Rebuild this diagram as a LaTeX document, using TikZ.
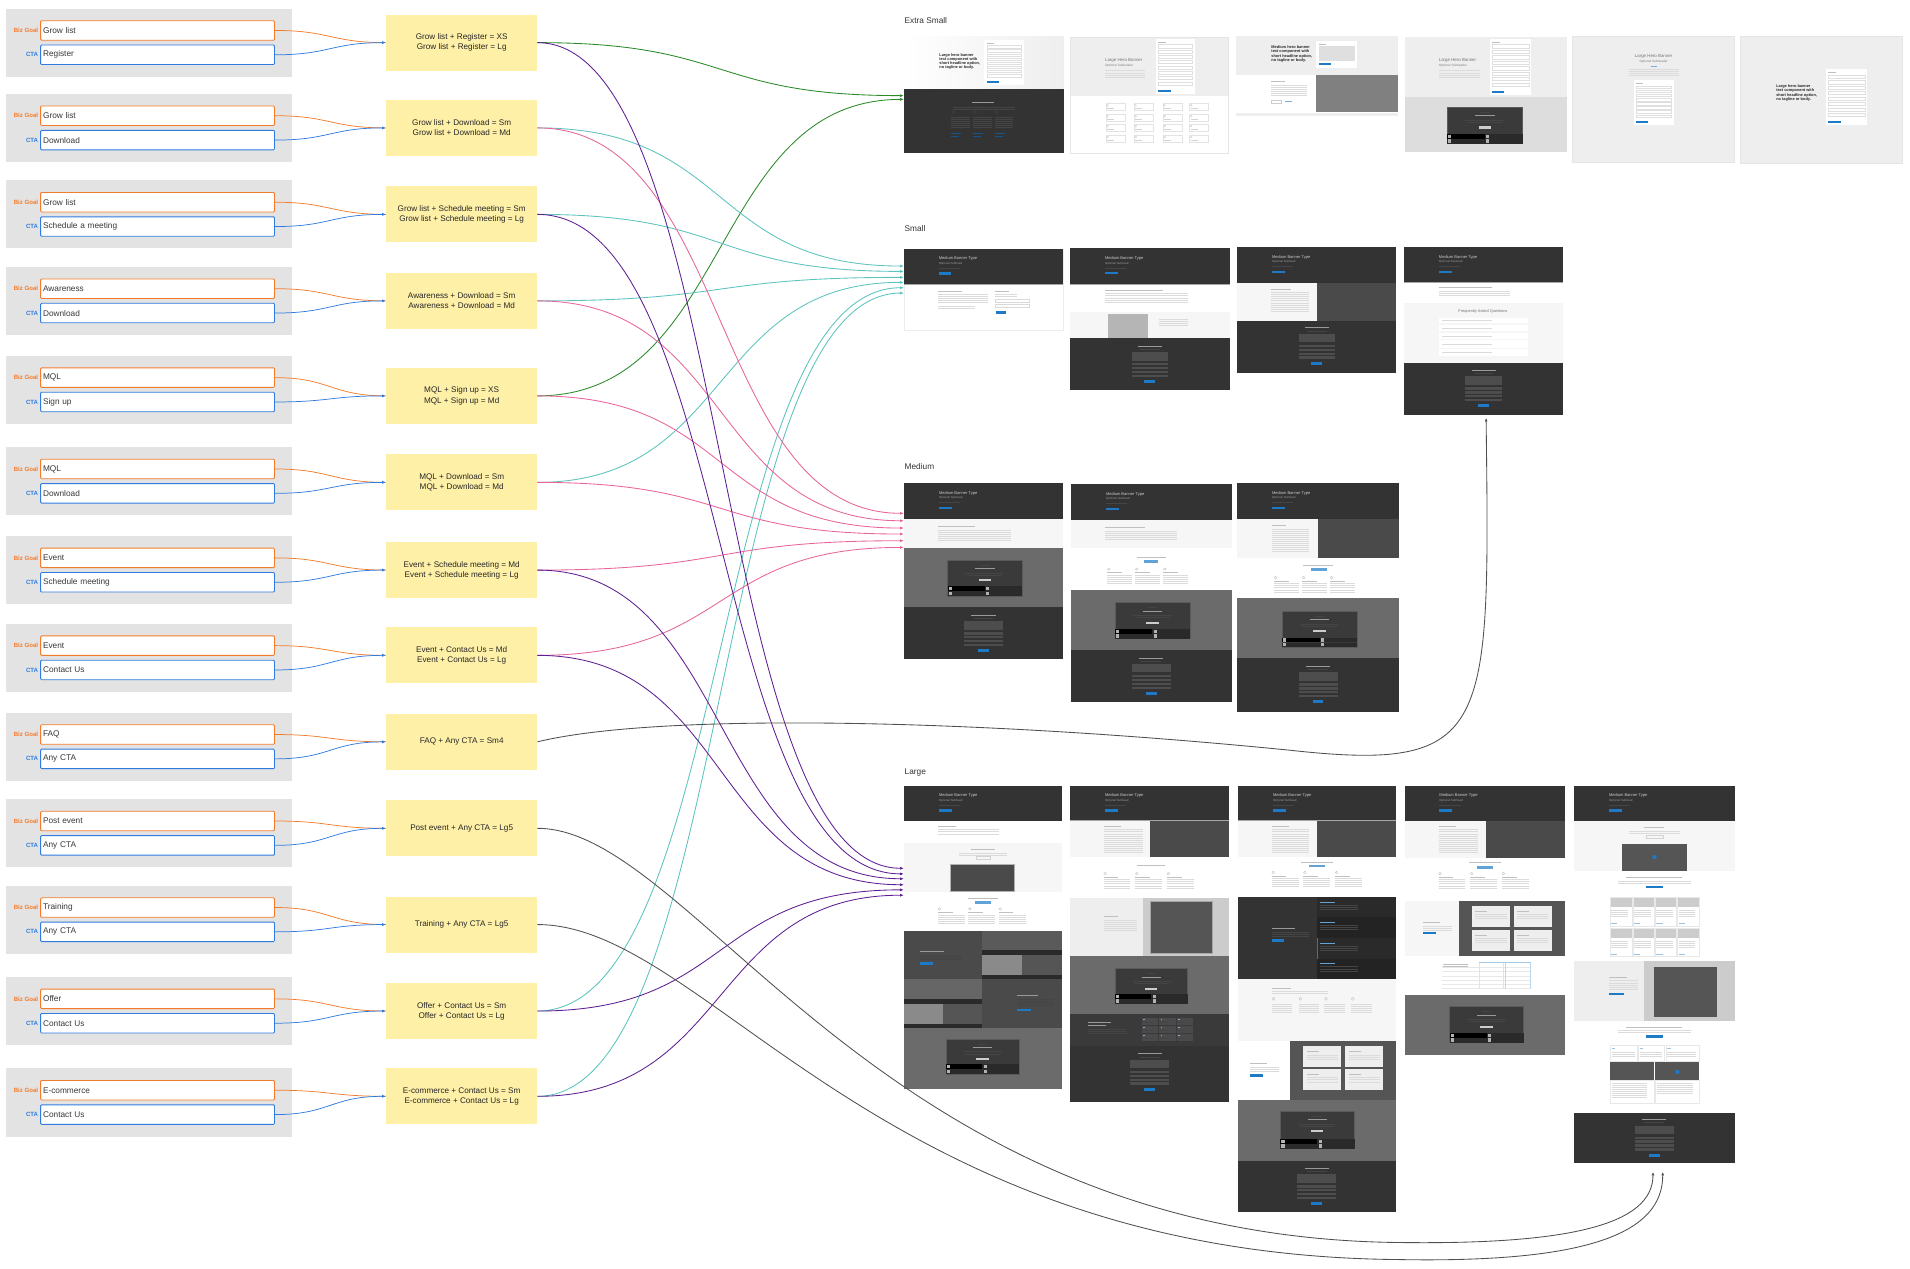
\documentclass[tikz,border=0pt]{standalone}
\usepackage{fontspec}
\setmainfont{Liberation Sans}
\usetikzlibrary{arrows.meta}
\definecolor{bizor}{HTML}{F47B2A}
\definecolor{ctabl}{HTML}{2F7BE0}
\definecolor{panel}{HTML}{E3E3E3}
\definecolor{ylw}{HTML}{FFF0A8}
\definecolor{cgreen}{HTML}{2A8A2A}
\definecolor{cteal}{HTML}{5CC3BD}
\definecolor{cpink}{HTML}{E8649A}
\definecolor{cpurple}{HTML}{5E1F93}
\definecolor{cgrey}{HTML}{505050}
\definecolor{dk}{HTML}{333333}
\definecolor{dk2}{HTML}{2A2A2A}
\definecolor{dk3}{HTML}{232323}
\definecolor{mid}{HTML}{4A4A4A}
\definecolor{gry}{HTML}{6B6B6B}
\definecolor{lt}{HTML}{EEEEEE}
\definecolor{lt2}{HTML}{F6F6F6}
\definecolor{ltc}{HTML}{CCCCCC}
\definecolor{btn}{HTML}{1E7AC6}
\definecolor{pbox}{HTML}{3A3A3A}
\definecolor{pline}{HTML}{5A5A5A}
\definecolor{dfield}{HTML}{4D4D4D}
\definecolor{m5a}{HTML}{5A5A5A}
\definecolor{m8a}{HTML}{8A8A8A}
\definecolor{m55}{HTML}{555555}
\definecolor{m66}{HTML}{666666}
\definecolor{xsg}{HTML}{808080}
\definecolor{ddd}{HTML}{DDDDDD}
\definecolor{bfive}{HTML}{B5B5B5}
\colorlet{tlg}{gray!28}
\colorlet{tlh}{gray!50}
\colorlet{tld}{white!27!black}
\colorlet{tlw}{white!60!black}
\tikzset{
  goalfield/.style={draw=bizor, line width=0.7pt, fill=white, anchor=west, minimum height=16pt,
    text width=188pt, inner xsep=2pt, inner ysep=0pt, align=left, rounded corners=0.8pt,
    font=\fontsize{6.8}{8}\selectfont, text=black!78},
  ctafield/.style={goalfield, draw=ctabl},
  goallabel/.style={anchor=east, inner sep=0pt, font=\fontsize{5}{6}\selectfont\bfseries, text=bizor},
  ctalabel/.style={anchor=east, inner sep=0pt, font=\fontsize{5}{6}\selectfont\bfseries, text=ctabl},
  combo/.style={fill=ylw, minimum width=124pt, minimum height=46pt, align=center, inner sep=0pt,
    font=\fontsize{6.7}{8.4}\selectfont, text=black!85},
  inlink/.style={line width=0.6pt},
  arr/.style={-{Latex[length=3pt,width=2.4pt]}},
  outlink/.style={line width=0.7pt, arr},
  sectitle/.style={anchor=west, inner sep=0pt, font=\fontsize{6.8}{8}\selectfont, text=black!80},
  tiny/.style={font=\fontsize{2.6}{3.1}\selectfont, inner sep=0pt, anchor=north west, align=left},
}
\newcounter{tnc}
\newcommand{\tx}[3][]{\stepcounter{tnc}\node[tiny,#1] (tx\arabic{tnc}) at (#2) {#3};}
\newcommand{\tlines}[5]{%
  \pgfmathsetmacro{\tlxa}{#1}\pgfmathsetmacro{\tlxb}{#2}\pgfmathsetmacro{\tly}{#3}%
  \foreach \k in {1,...,#4}{\draw[#5,line width=0.25pt] (\tlxa,{\tly+(\k-1)*1.7}) -- (\tlxb,{\tly+(\k-1)*1.7});}}
\newcommand{\tcols}[4]{%
  \foreach \j in {0,1,2}{%
    \pgfmathsetmacro{\tcx}{#1+\j*(#3+#4)}%
    \draw[tlh,line width=0.3pt] ({\tcx+1.2},{#2+1.2}) circle (1.1pt);
    \draw[tlh,line width=0.3pt] (\tcx,{#2+4}) -- ({\tcx+12},{#2+4});
    \tlines{\tcx}{\tcx+#3}{#2+6}{5}{tlg}
  }}
\newcommand{\mhead}[4]{%
  \fill[dk] (#1,#2) rectangle (#3,#4);
  \draw[gray!70,line width=0.5pt] (#1,#4) -- (#3,#4);
  \tx[font=\fontsize{3.3}{3.8}\selectfont, text=white!80!black]{{#1+28.5},{#2+6.5}}{Medium Banner Type}
  \tx[font=\fontsize{2.4}{2.8}\selectfont, text=white!60!black]{{#1+28.5},{#2+11}}{Optional Subhead}
  \draw[tld,line width=0.3pt] ({#1+28.5},{#2+16}) -- ({#1+46},{#2+16});
  \fill[btn] ({#1+28.5},{#2+19.5}) rectangle ({#1+39},{#2+21.3});
}
\newcommand{\dform}[3]{%
  \pgfmathsetmacro{\dfa}{#1-#3/2}\pgfmathsetmacro{\dfb}{#1+#3/2}%
  \draw[tlw,line width=0.4pt] ({#1-10},{#2}) -- ({#1+10},{#2});
  \draw[tld,line width=0.3pt] ({#1-8},{#2+2.5}) -- ({#1+8},{#2+2.5});
  \fill[dfield] (\dfa,{#2+5}) rectangle (\dfb,{#2+12});
  \foreach \k in {0,...,3}{\fill[dfield] (\dfa,{#2+14+\k*3.2}) rectangle (\dfb,{#2+15.9+\k*3.2});}
  \fill[btn] ({#1-4.5},{#2+28}) rectangle ({#1+4.5},{#2+30.5});
}
\newcommand{\tform}[4]{%
  \fill[white] (#1,#2) rectangle (#3,#4);
  \pgfmathsetmacro{\fst}{(#4-#2-10)/8}%
  \draw[tlh,line width=0.3pt] ({#1+2},{#2+2.5}) -- ({#1+8},{#2+2.5});
  \foreach \k in {0,...,7}{\draw[gray!25,line width=0.25pt] ({#1+2},{#2+4.5+\k*\fst}) rectangle ({#3-2},{#2+4.5+\k*\fst+\fst*0.6});}
  \fill[btn] ({#1+2},{#4-3.5}) rectangle ({#1+12},{#4-1.8});
}
\newcommand{\promo}[4]{%
  \pgfmathsetmacro{\pcx}{(#1+#3)/2}%
  \fill[pbox] (#1,#2) rectangle (#3,#4);
  \draw[pline,line width=0.5pt] (#1,#2) rectangle (#3,#4);
  \draw[tld,line width=0.3pt] ({\pcx-4},{#2+4}) -- ({\pcx+4},{#2+4});
  \draw[tlw,line width=0.45pt] ({\pcx-8},{#2+7}) -- ({\pcx+8},{#2+7});
  \draw[tld,line width=0.25pt] ({\pcx-16},{#2+10.5}) -- ({\pcx+16},{#2+10.5});
  \draw[tld,line width=0.25pt] ({\pcx-14},{#2+12.2}) -- ({\pcx+14},{#2+12.2});
  \fill[white!80!black] ({\pcx-5},{#2+15.5}) rectangle ({\pcx+5},{#2+17.5});
  \fill[black] (#1,{#4-8}) rectangle (\pcx,{#4-4.2});
  \fill[dk2] (\pcx,{#4-8}) rectangle (#3,{#4-4.2});
  \fill[dk2] (#1,{#4-4}) rectangle (#3,#4);
  \fill[gray!60] ({#1+1},{#4-7.5}) rectangle ({#1+3.5},{#4-4.7});
  \fill[gray!60] ({\pcx+1},{#4-7.5}) rectangle ({\pcx+3.5},{#4-4.7});
  \fill[gray!60] ({#1+1},{#4-3.6}) rectangle ({#1+3.5},{#4-0.8});
  \fill[gray!60] ({\pcx+1},{#4-3.6}) rectangle ({\pcx+3.5},{#4-0.8});
}
\newcommand{\olink}[3]{\draw[outlink,#1] (#2.east) .. controls +(160,0) and +(-160,0) .. (#3);}
\begin{document}
\begin{tikzpicture}[x=1pt,y=-1pt]
\useasboundingbox (0,0) rectangle (1568,1041);
\fill[white] (0,0) rectangle (1568,1041);

% ---------------- left column
\foreach \rt/\rg/\rc/\ry/\rl [count=\i] in {
  7/Grow list/Register/35/{Grow list + Register = XS\\Grow list + Register = Lg},
  77/Grow list/Download/105/{Grow list + Download = Sm\\Grow list + Download = Md},
  148/Grow list/Schedule a meeting/176/{Grow list + Schedule meeting = Sm\\Grow list + Schedule meeting = Lg},
  219/Awareness/Download/247/{Awareness + Download = Sm\\Awareness + Download = Md},
  292/MQL/Sign up/325/{MQL + Sign up = XS\\MQL + Sign up = Md},
  367/MQL/Download/396/{MQL + Download = Sm\\MQL + Download = Md},
  440/Event/Schedule meeting/468/{Event + Schedule meeting = Md\\Event + Schedule meeting = Lg},
  512/Event/Contact Us/538/{Event + Contact Us = Md\\Event + Contact Us = Lg},
  585/FAQ/Any CTA/609/{FAQ + Any CTA = Sm4},
  656/Post event/Any CTA/680/{Post event + Any CTA = Lg5},
  727/Training/Any CTA/759/{Training + Any CTA = Lg5},
  802/Offer/Contact Us/830/{Offer + Contact Us = Sm\\Offer + Contact Us = Lg},
  877/E-commerce/Contact Us/900/{E-commerce + Contact Us = Sm\\E-commerce + Contact Us = Lg}}{
  \fill[panel] (5,\rt) rectangle (240,{\rt+56});
  \node[goalfield] (g\i) at (33,{\rt+18}) {\rg};
  \node[ctafield] (c\i) at (33,{\rt+38}) {\rc};
  \node[goallabel] (bg\i) at (31.5,{\rt+18}) {Biz Goal};
  \node[ctalabel] (ct\i) at (31.5,{\rt+38}) {CTA};
  \node[combo] (y\i) at (379,\ry) {\rl};
  \draw[inlink,bizor] (g\i.east) .. controls +(45,0) and +(-45,0) .. (y\i.west);
  \draw[inlink,ctabl,arr] (c\i.east) .. controls +(45,0) and +(-45,0) .. (y\i.west);
}

% ---------------- section titles
\node[sectitle] (lxs) at (742.5,17) {Extra Small};
\node[sectitle] (lsm) at (742.5,188) {Small};
\node[sectitle] (lmd) at (742.5,383) {Medium};
\node[sectitle] (llg) at (742.5,634) {Large};

% ================= Extra small
% XS1
\shade[left color=white,right color=lt] (742,29.6) rectangle (873.6,73.3);
\fill[dk] (742,73.3) rectangle (873.6,125.4);
\tx[font=\fontsize{3.2}{3.4}\selectfont\bfseries, text=black!85]{771,43.5}{Large hero banner\\text component with\\short headline option,\\no tagline or body.}
\tform{808}{32.8}{840.7}{69.8}
\draw[tlw,line width=0.35pt] (798,84) -- (816,84);
\tlines{782}{833}{87.6}{2}{tld}
\foreach \xa in {781,799,817}{
  \draw[tld,line width=0.3pt] ({\xa+1.5},92) circle (1pt);
  \tlines{\xa}{\xa+15}{95.8}{6}{tld}
  \draw[btn!70!black,line width=0.3pt] (\xa,109.5) -- ({\xa+8},109.5);
  \draw[btn!70!black,line width=0.3pt] (\xa,111.5) -- ({\xa+6},111.5);}
% XS2
\fill[lt] (878.6,30.4) rectangle (1008.5,78.5);
\fill[white] (878.6,78.5) rectangle (1008.5,125.4);
\draw[gray!20,line width=0.3pt] (878.6,30.4) rectangle (1008.5,125.4);
\tx[font=\fontsize{3.6}{4}\selectfont, text=black!55]{907,47.5}{Large Hero Banner}
\tx[font=\fontsize{2.6}{3}\selectfont, text=black!50]{907,52.3}{Optional Subheader}
\tlines{907}{940}{58}{4}{tlg}
\tform{949}{32}{981}{77}
\foreach \xa/\xb in {907.7/923.9,930.8/946.9,954.6/970.3,976.4/991.5}{
  \foreach \ya/\yb in {85/90.3,94/99.4,102/107.3,111/116.6}{
    \draw[gray!22,line width=0.25pt] (\xa,\ya) rectangle (\xb,\yb);
    \draw[gray!40,line width=0.25pt] ({\xa+1.5},{\ya+1.5}) circle (0.8pt);
    \draw[gray!35,line width=0.25pt] ({\xa+1},{\ya+3.8}) -- ({\xa+7},{\ya+3.8});}}
% XS3
\fill[lt] (1015,29.6) rectangle (1147.5,61.6);
\fill[white] (1015,61.6) rectangle (1080.6,93);
\fill[xsg] (1080.6,61.6) rectangle (1147.5,92);
\fill[lt] (1015,93) rectangle (1147.5,95);
\tx[font=\fontsize{3.2}{3.4}\selectfont\bfseries, text=black!85]{1043.6,37.5}{Medium hero banner\\text component with\\short headline option,\\no tagline or body.}
\tform{1080.6}{33.7}{1114}{55.5}
\draw[tlh,line width=0.3pt] (1043.5,67) -- (1055,67);
\tlines{1043.5}{1073}{70}{6}{tlg}
\draw[gray!40,line width=0.3pt] (1043.5,82) rectangle (1052,84.3);
\draw[btn!60,line width=0.3pt] (1055,83.2) -- (1061,83.2);
% XS4
\fill[lt] (1153,30) rectangle (1286,79.5);
\fill[ddd] (1153,79.5) rectangle (1286,125);
\tx[font=\fontsize{3.6}{4}\selectfont, text=black!55]{1181,47.5}{Large Hero Banner}
\tx[font=\fontsize{2.6}{3}\selectfont, text=black!50]{1181,52.3}{Optional Subheader}
\tlines{1181}{1215}{58}{4}{tlg}
\tform{1223}{32}{1257}{78}
\promo{1188}{88}{1250}{118}
% XS5
\fill[lt] (1291,30) rectangle (1424,133);
\draw[gray!20,line width=0.3pt] (1291,30) rectangle (1424,133);
\tx[anchor=north,font=\fontsize{3.6}{4}\selectfont, text=black!55]{1357.5,44.5}{Large Hero Banner}
\tx[anchor=north,font=\fontsize{2.6}{3}\selectfont, text=black!50]{1357.5,49.5}{Optional Subheader}
\draw[btn!60,line width=0.3pt] (1355,54) -- (1360,54);
\tlines{1337}{1378}{57}{4}{tlg}
\tform{1341}{66}{1374}{103}
% XS6
\fill[lt] (1428.6,29.6) rectangle (1561.6,133.6);
\draw[gray!20,line width=0.3pt] (1428.6,29.6) rectangle (1561.6,133.6);
\tx[font=\fontsize{3.2}{3.4}\selectfont\bfseries, text=black!85]{1458,69.5}{Large hero banner\\text component with\\short headline option,\\no tagline or body.}
\tform{1499}{57}{1533}{103}

% ================= Small
% Sm1
\fill[white] (742,204.2) rectangle (873,271);
\draw[gray!15,line width=0.3pt] (742,204.2) rectangle (873,271);
\mhead{742}{204.2}{873}{233.4}
\draw[tlh,line width=0.3pt] (770,238.7) -- (790,238.7);
\tlines{770}{811}{241.5}{5}{tlg}
\tlines{770}{800}{251}{2}{tlg}
\draw[tlh,line width=0.3pt] (817,238.7) -- (828,238.7);
\tlines{817}{835}{241.5}{2}{tlg}
\draw[gray!30,line width=0.3pt] (817,246) rectangle (844.6,248.3);
\draw[gray!30,line width=0.3pt] (817,250) rectangle (844.6,252.3);
\fill[btn] (817.6,255.6) rectangle (826,258);
% Sm2
\fill[white] (878.5,204) rectangle (1009.4,256.4);
\mhead{878.5}{204}{1009.4}{233.4}
\draw[tlh,line width=0.3pt] (907,238) -- (955,238);
\tlines{907}{975}{241}{5}{tlg}
\fill[lt2] (878.5,256.4) rectangle (1009.4,277.7);
\fill[bfive] (910,257.5) rectangle (942.6,277.7);
\tlines{951.6}{975}{262}{4}{tlg}
\fill[dk] (878.5,277.7) rectangle (1009.4,320);
\dform{944}{284}{30}
% Sm3
\mhead{1015.6}{202.8}{1146}{232.6}
\fill[lt2] (1015.6,232.6) rectangle (1081.4,263.3);
\fill[mid] (1081.4,232.6) rectangle (1146,263.3);
\draw[tlh,line width=0.3pt] (1043,237) -- (1060,237);
\tlines{1043}{1075}{240}{10}{tlg}
\fill[dk] (1015.6,263.3) rectangle (1146,306);
\dform{1081}{269}{30}
% Sm4
\fill[white] (1152.6,232) rectangle (1283.3,249);
\mhead{1152.6}{202.8}{1283.3}{232}
\draw[tlh,line width=0.3pt] (1181,236) -- (1225,236);
\tlines{1181}{1240}{239}{3}{tlg}
\fill[lt2] (1152.6,249) rectangle (1283.3,298.3);
\tx[anchor=north,font=\fontsize{3.2}{3.6}\selectfont, text=black!55]{1217.4,254.3}{Frequently Asked Questions}
\foreach \ya/\yb in {260.8/265.5,266.7/271.9,273/278.2,278.8/285.6,286.3/292.4}{
  \fill[white] (1181,\ya) rectangle (1254,\yb);
  \draw[tlg,line width=0.25pt] (1184,{(\ya+\yb)/2}) -- (1225,{(\ya+\yb)/2});}
\fill[dk] (1152.6,298.3) rectangle (1283.3,340.8);
\dform{1218}{304}{30}

% ================= Medium
% Md1
\mhead{742.2}{396.6}{872.5}{426.4}
\fill[lt2] (742.2,426.4) rectangle (872.5,449.7);
\draw[tlh,line width=0.3pt] (770,432) -- (800,432);
\tlines{770}{830}{435}{6}{tlg}
\fill[gry] (742.2,449.7) rectangle (872.5,498);
\promo{778}{459.8}{839}{489.3}
\fill[dk] (742.2,498) rectangle (872.5,541.3);
\dform{807.5}{505}{32}
% Md2
\mhead{879.3}{397.4}{1011.5}{427.2}
\fill[lt2] (879.3,427.2) rectangle (1011.5,450.2);
\draw[tlh,line width=0.3pt] (907,433) -- (940,433);
\tlines{907}{966}{436}{5}{tlg}
\fill[white] (879.3,450.2) rectangle (1011.5,484.4);
\draw[tlh,line width=0.3pt] (933,457.5) -- (957,457.5);
\fill[btn!70!white] (939,460) rectangle (951,462);
\tcols{909}{466}{20}{3}
\fill[gry] (879.3,484.4) rectangle (1011.5,533.6);
\promo{915.4}{494.8}{976.8}{524.4}
\fill[dk] (879.3,533.6) rectangle (1011.5,576.6);
\dform{945}{540}{32}
% Md3
\mhead{1015.6}{396.6}{1148.6}{426.4}
\fill[lt2] (1015.6,426.4) rectangle (1082,457.9);
\fill[mid] (1082,426.4) rectangle (1148.6,457.9);
\draw[tlh,line width=0.3pt] (1044,431) -- (1056,431);
\tlines{1044}{1075}{434}{12}{tlg}
\fill[white] (1015.6,457.9) rectangle (1148.6,491.3);
\draw[tlh,line width=0.3pt] (1070,464) -- (1094,464);
\fill[btn!70!white] (1076,466.5) rectangle (1089,468.5);
\tcols{1046}{473}{20}{3}
\fill[gry] (1015.6,491.3) rectangle (1148.6,540.5);
\promo{1052.6}{501.6}{1113.9}{531.5}
\fill[dk] (1015.6,540.5) rectangle (1148.6,584.8);
\dform{1082}{547}{32}

% ================= Large
% Lg1
\mhead{742.2}{645}{872}{674}
\fill[white] (742.2,674) rectangle (872,692.2);
\draw[tlh,line width=0.3pt] (770,678) -- (785,678);
\tlines{770}{820}{681}{3}{tlg}
\fill[lt2] (742.2,692.2) rectangle (872,732);
\draw[tlh,line width=0.3pt] (797,697) -- (817,697);
\tlines{787}{827}{700}{2}{tlg}
\draw[gray!35,line width=0.3pt] (801,703) rectangle (813,705.5);
\fill[mid] (780,709.6) rectangle (833,732);
\draw[gray!60,line width=0.4pt] (780,709.6) rectangle (833,732);
\fill[white] (742.2,732) rectangle (872,764.6);
\draw[tlh,line width=0.3pt] (795,737) -- (819,737);
\fill[btn!70!white] (800.5,740) rectangle (813.5,742);
\tcols{770}{745}{22}{3}
\fill[mid] (742.2,764.6) rectangle (806,803.8);
\draw[tlw,line width=0.35pt] (755,781) -- (775,781);
\tlines{755}{790}{784}{3}{tld}
\fill[btn] (755,790) rectangle (766,792);
\fill[m5a] (806,764.6) rectangle (872,784.2);
\fill[dk2] (806,780) rectangle (872,784.2);
\fill[m8a] (806,784.2) rectangle (838.8,803.8);
\fill[m55] (838.8,784.2) rectangle (872,803.8);
\fill[dk2] (806,800.5) rectangle (872,803.8);
\fill[m66] (742.2,803.8) rectangle (806,824);
\fill[dk2] (742.2,820.5) rectangle (806,824);
\fill[m8a] (742.2,824) rectangle (774.5,844.2);
\fill[m55] (774.5,824) rectangle (806,844.2);
\fill[dk2] (742.2,841) rectangle (806,844.2);
\fill[mid] (806,803.8) rectangle (872,844.2);
\draw[tlw,line width=0.35pt] (835,817) -- (852,817);
\tlines{835}{865}{820}{4}{tld}
\fill[btn] (835,828) rectangle (846,830);
\fill[gry] (742.2,844.2) rectangle (872,894);
\promo{776.7}{852.8}{836.4}{881.7}
% Lg2
\mhead{878.5}{645}{1009}{673.6}
\fill[lt2] (878.5,673.6) rectangle (944,703.7);
\fill[mid] (944,673.6) rectangle (1009,703.7);
\draw[tlh,line width=0.3pt] (906,678) -- (920,678);
\tlines{906}{938}{681}{12}{tlg}
\fill[white] (878.5,703.7) rectangle (1009,737.1);
\draw[tlh,line width=0.3pt] (933,710) -- (956,710);
\tcols{906}{716}{22}{4}
\fill[lt] (878.5,737.1) rectangle (938.4,785);
\fill[ltc] (938.4,737.1) rectangle (1009,785);
\fill[m55] (944,739.8) rectangle (994.8,782.3);
\draw[gray!70,line width=0.3pt] (944,739.8) rectangle (994.8,782.3);
\draw[tlh,line width=0.3pt] (906,752) -- (918,752);
\tlines{906}{933}{755}{6}{tlg}
\fill[gry] (878.5,785) rectangle (1009,832.6);
\promo{915.4}{795.2}{975}{824}
\fill[pbox] (878.5,832.6) rectangle (1009,858.7);
\draw[tlw,line width=0.35pt] (893,839) -- (912,839);
\draw[tlw,line width=0.35pt] (893,841.5) -- (908,841.5);
\tlines{893}{925}{845}{3}{tld}
\foreach \xa in {937.4,951.8,966}{\foreach \ya in {835.3,842,848.7}{
  \fill[mid] (\xa,\ya) rectangle ({\xa+13.5},{\ya+6.2});
  \draw[btn!60!white,line width=0.3pt] ({\xa+1},{\ya+1.2}) -- ({\xa+2.5},{\ya+1.2});
  \draw[tld,line width=0.25pt] ({\xa+1},{\ya+3.5}) -- ({\xa+9},{\ya+3.5});}}
\fill[dk] (878.5,858.7) rectangle (1009,905);
\dform{944}{865}{32}
% Lg3
\mhead{1016.4}{645}{1145.9}{673.6}
\fill[lt2] (1016.4,673.6) rectangle (1081,703.7);
\fill[mid] (1081,673.6) rectangle (1145.9,703.7);
\draw[tlh,line width=0.3pt] (1044,678) -- (1058,678);
\tlines{1044}{1075}{681}{12}{tlg}
\fill[white] (1016.4,703.7) rectangle (1145.9,736.3);
\draw[tlh,line width=0.3pt] (1068,707.5) -- (1094,707.5);
\fill[btn!70!white] (1074.5,710) rectangle (1087.5,712);
\tcols{1044}{715}{22}{4}
\fill[dk] (1016.4,736.3) rectangle (1081,803.9);
\draw[tlw,line width=0.35pt] (1044,762) -- (1063,762);
\tlines{1044}{1075}{765}{3}{tld}
\fill[btn] (1044,771) rectangle (1054,773);
\foreach \ya/\cc in {736.3/dk2,753.2/dk3,770.1/dk2,787/dk3}{
  \fill[\cc] (1081,\ya) rectangle (1145.9,{\ya+16.9});
  \draw[btn!70!white,line width=0.3pt] (1084,{\ya+4}) -- (1096,{\ya+4});
  \tlines{1084}{1115}{\ya+6.5}{3}{tld}}
\draw[btn,line width=0.5pt] (1081.3,770.1) -- (1081.3,787);
\fill[lt2] (1016.4,803.9) rectangle (1145.9,854.7);
\draw[tlh,line width=0.3pt] (1044,811) -- (1060,811);
\tlines{1044}{1090}{814}{2}{tlg}
\foreach \xa in {1044,1066,1087,1109}{
  \draw[tlh,line width=0.3pt] ({\xa+1.5},820) circle (1.2pt);
  \tlines{\xa}{\xa+17}{824}{5}{tlg}}
\fill[white] (1016.4,854.7) rectangle (1059,903);
\draw[tlh,line width=0.3pt] (1026,873) -- (1040,873);
\tlines{1026}{1050}{876}{3}{tlg}
\fill[btn] (1026,882) rectangle (1037,884);
\fill[m55] (1059,854.7) rectangle (1145.9,903);
\foreach \xa/\xb in {1070/1101,1104.5/1135.5}{\foreach \ya/\yb in {858.8/875.6,877.6/894.5}{
  \fill[lt] (\xa,\ya) rectangle (\xb,\yb);
  \draw[tlh,line width=0.3pt] ({\xa+3},{\ya+4}) -- ({\xa+13},{\ya+4});
  \tlines{\xa+3}{\xb-3}{\ya+7}{3}{tlg}}}
\fill[gry] (1016.4,903) rectangle (1145.9,953);
\promo{1051}{912}{1112}{943}
\fill[dk] (1016.4,953) rectangle (1145.9,995);
\dform{1081}{959}{32}
% Lg4
\mhead{1153}{645}{1285}{674}
\fill[lt2] (1153,674) rectangle (1219.5,704);
\fill[mid] (1219.5,674) rectangle (1285,704);
\draw[tlh,line width=0.3pt] (1181,678) -- (1195,678);
\tlines{1181}{1213}{681}{12}{tlg}
\fill[white] (1153,704) rectangle (1285,739.5);
\draw[tlh,line width=0.3pt] (1206,708) -- (1232,708);
\fill[btn!70!white] (1212.5,711) rectangle (1225.5,713);
\tcols{1181}{716}{22}{4}
\fill[lt2] (1153,739.5) rectangle (1197.6,785);
\draw[tlh,line width=0.3pt] (1168,757) -- (1182,757);
\tlines{1168}{1192}{760}{3}{tlg}
\fill[btn] (1168,765) rectangle (1179,767);
\fill[m55] (1197.6,739.5) rectangle (1285,785);
\foreach \xa/\xb in {1208/1240,1242.5/1274}{\foreach \ya/\yb in {743.7/761.2,763.4/780.6}{
  \fill[lt] (\xa,\ya) rectangle (\xb,\yb);
  \draw[tlh,line width=0.3pt] ({\xa+3},{\ya+4}) -- ({\xa+13},{\ya+4});
  \tlines{\xa+3}{\xb-3}{\ya+7}{3}{tlg}}}
\fill[white] (1153,785) rectangle (1285,817);
\foreach \ya in {794,797.5,801,804.5,808,811.6}{\draw[gray!18,line width=0.25pt] (1183.7,\ya) -- (1256,\ya);}
\foreach \xa in {1214,1234}{\draw[gray!22,line width=0.25pt] (\xa,790) -- (\xa,811.6);}
\draw[btn!40,line width=0.5pt] (1214,790) -- (1256,790);
\draw[btn!30,line width=0.4pt] (1236,790) -- (1236,811.6);
\draw[btn!30,line width=0.4pt] (1256,790) -- (1256,811.6);
\tlines{1185}{1205}{791.5}{2}{tlh}
\fill[gry] (1153,817) rectangle (1285,866);
\promo{1190}{826.4}{1250.7}{856}
% Lg5
\mhead{1292.3}{645}{1424.5}{674}
\fill[lt2] (1292.3,674) rectangle (1424.5,715);
\draw[tlh,line width=0.3pt] (1350,679) -- (1366,679);
\tlines{1337}{1379}{682}{2}{tlg}
\draw[gray!35,line width=0.3pt] (1351,686) rectangle (1365,688.5);
\fill[m55] (1331.4,692.6) rectangle (1384.8,715);
\fill[btn] (1358.2,703.6) circle (1.8pt);
\fill[white] (1292.3,715) rectangle (1424.5,789);
\draw[tlh,line width=0.3pt] (1335,720) -- (1381,720);
\tlines{1328}{1388}{723}{2}{tlg}
\fill[btn] (1351,727) rectangle (1365,729);
\foreach \xa/\xb in {1321.8/1339.7,1340.5/1358,1358.8/1376.2,1377.1/1394.7}{\foreach \ya/\yb in {736.4/760,761.8/785}{
  \fill[ltc] (\xa,\ya) rectangle (\xb,{\ya+8});
  \draw[gray!18,line width=0.25pt] (\xa,\ya) rectangle (\xb,\yb);
  \tlines{\xa+1}{\xb-3}{\ya+10.5}{4}{tlg}
  \draw[btn!45,line width=0.3pt] ({\xa+1},{\yb-2}) -- ({\xa+6},{\yb-2});}}
\fill[lt] (1292.3,788.6) rectangle (1350,837.8);
\fill[ltc] (1350,788.6) rectangle (1424.5,837.8);
\fill[m55] (1358.2,794) rectangle (1409.4,835);
\draw[tlh,line width=0.3pt] (1321,802) -- (1336,802);
\tlines{1321}{1345}{805}{5}{tlg}
\fill[btn] (1321,815) rectangle (1333,817);
\fill[white] (1292.3,837.8) rectangle (1424.5,908.4);
\draw[tlh,line width=0.3pt] (1335,843) -- (1381,843);
\tlines{1328}{1388}{846}{2}{tlg}
\fill[btn] (1351,850) rectangle (1365,852);
\foreach \xa/\xb in {1322/1344,1345/1366.5,1367.5/1394.7}{
  \draw[gray!18,line width=0.25pt] (\xa,858) rectangle (\xb,871);
  \draw[btn!45,line width=0.3pt] ({\xa+1},860.5) -- ({\xa+4},860.5);
  \tlines{\xa+1}{\xb-2}{863.5}{3}{tlg}}
\fill[m55] (1321.8,872) rectangle (1358,886.5);
\fill[m55] (1358.8,872) rectangle (1394.7,886.5);
\fill[btn] (1377,880) circle (1.8pt);
\draw[gray!18,line width=0.25pt] (1321.8,886.5) rectangle (1358,905.5);
\draw[gray!18,line width=0.25pt] (1358.8,886.5) rectangle (1394.7,905.5);
\tlines{1323}{1352}{889}{8}{tlg}
\tlines{1360}{1390}{889}{6}{tlg}
\fill[dk] (1292.3,913.4) rectangle (1424.5,955);
\dform{1358}{919}{32}

% ================= arrival points
\coordinate (xsA) at (742,78.5);
\coordinate (xsB) at (742,81.6);
\coordinate (smA) at (742,218.4);
\coordinate (smB) at (742,222.8);
\coordinate (smC) at (742,227.7);
\coordinate (smD) at (742,231.8);
\coordinate (smE) at (742,236.2);
\coordinate (smF) at (742,240.6);
\coordinate (mdA) at (742,421.4);
\coordinate (mdB) at (742,427.5);
\coordinate (mdC) at (742,433.5);
\coordinate (mdD) at (742,438.4);
\coordinate (mdE) at (742,443.9);
\coordinate (mdF) at (742,449.4);
\coordinate (lgA) at (742,712.8);
\coordinate (lgB) at (742,717.4);
\coordinate (lgC) at (742,721.4);
\coordinate (lgD) at (742,726.3);
\coordinate (lgE) at (742,730.5);
\coordinate (lgF) at (742,734.9);
\coordinate (smfour) at (1220,343);
\coordinate (lgfiveA) at (1357,962);
\coordinate (lgfiveB) at (1365,962);

% ================= outgoing connectors
\olink{cgreen}{y1}{xsA}
\olink{cgreen}{y5}{xsB}
\olink{cteal}{y2}{smA}
\olink{cteal}{y3}{smB}
\olink{cteal}{y4}{smC}
\olink{cteal}{y6}{smD}
\olink{cteal}{y12}{smE}
\olink{cteal}{y13}{smF}
\olink{cpink}{y2}{mdA}
\olink{cpink}{y4}{mdB}
\olink{cpink}{y5}{mdC}
\olink{cpink}{y6}{mdD}
\olink{cpink}{y7}{mdE}
\olink{cpink}{y8}{mdF}
\olink{cpurple}{y1}{lgA}
\olink{cpurple}{y3}{lgB}
\olink{cpurple}{y7}{lgC}
\olink{cpurple}{y8}{lgD}
\olink{cpurple}{y12}{lgE}
\olink{cpurple}{y13}{lgF}
\draw[outlink,cgrey] (y9.east) .. controls (540,585) and (800,590) .. (1060,616)
  .. controls (1225,634) and (1223,600) .. (smfour);
\draw[outlink,cgrey] (y10.east) .. controls (570,680) and (720,1015) .. (1147,1020)
  .. controls (1290,1022) and (1357,1005) .. (lgfiveA);
\draw[outlink,cgrey] (y11.east) .. controls (580,759) and (720,1030) .. (1147,1034)
  .. controls (1305,1037) and (1365,1012) .. (lgfiveB);
\end{tikzpicture}
\end{document}
